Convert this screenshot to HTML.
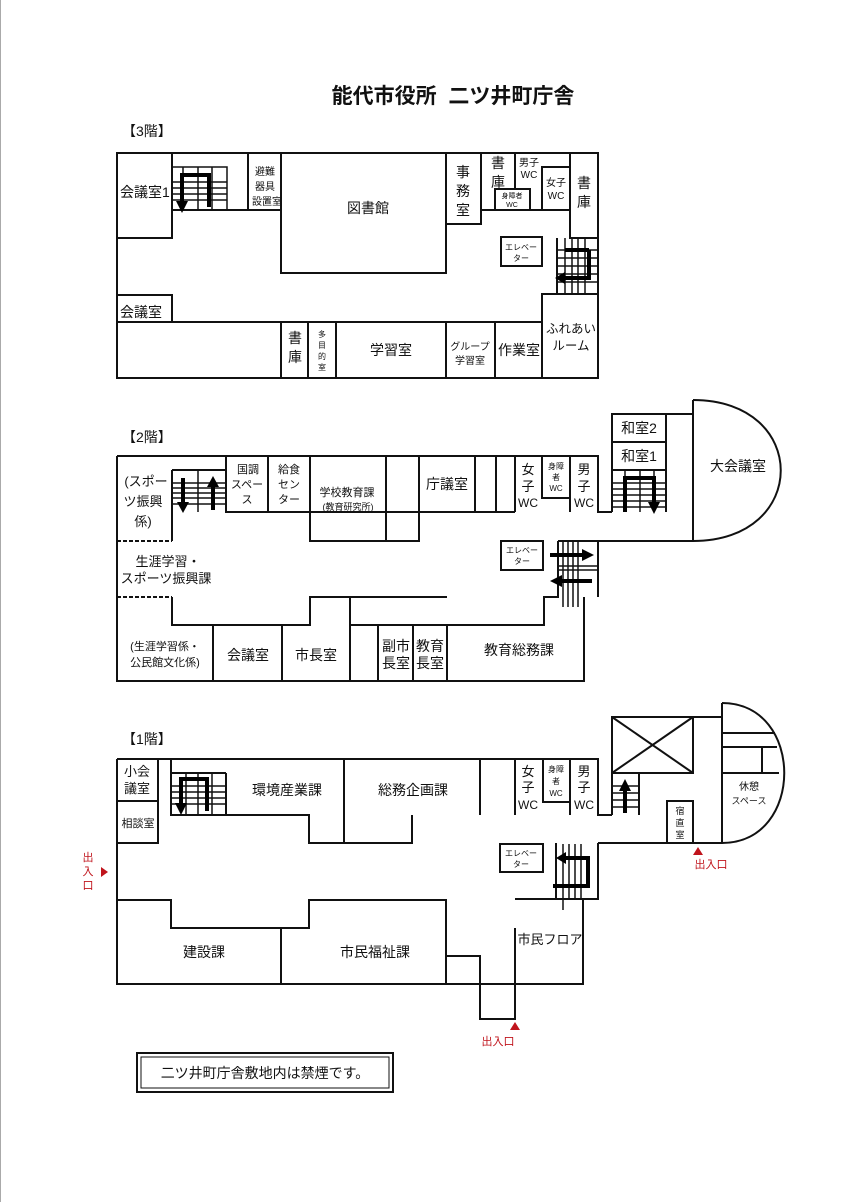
<!DOCTYPE html>
<html><head><meta charset="utf-8"><style>
html,body{margin:0;padding:0;background:#fff;}
svg{display:block;}
text{font-family:"Liberation Sans","Noto Sans CJK JP",sans-serif;fill:#111;}
</style></head><body>
<svg width="852" height="1202" viewBox="0 0 852 1202" xmlns="http://www.w3.org/2000/svg">
<rect width="852" height="1202" fill="#fff"/>
<line x1="0.5" y1="0" x2="0.5" y2="1202" stroke="#aaa" stroke-width="1"/>
<text x="453" y="103" font-size="21" font-weight="bold" text-anchor="middle">能代市役所&#160;&#160;二ツ井町庁舎</text>

<g stroke="#111" stroke-width="2" fill="none">
<!-- ===== 3F ===== -->
<rect x="117" y="153" width="481" height="225"/>
<path d="M172 153V238H117"/>
<path d="M172 210H282"/>
<path d="M248 153V210"/>
<rect x="281" y="153" width="165" height="120"/>
<path d="M446 224H481V153"/>
<path d="M481 210H570"/>
<path d="M515 153V189"/>
<rect x="495" y="189" width="35" height="21"/>
<path d="M542 210V167H570"/>
<path d="M570 153V238H598"/>
<rect x="501" y="237" width="41" height="29"/>
<path d="M557 238V294"/>
<path d="M542 378V294H598"/>
<path d="M117 295H172V322"/>
<path d="M117 322H542"/>
<path d="M281 322V378M308 322V378M336 322V378M446 322V378M495 322V378"/>
</g>
<g stroke="#111" stroke-width="1.5" fill="none">
<path d="M172 167H227V210M183 167V210M198 167V210M212 167V210M172 182H227M172 188H227M172 194H227M172 200H227"/>
<path d="M565 238V294M572 238V294M578 238V294M585 238V294M557 250H598M557 258H598M557 266H598M557 274H598M557 282H598"/>
</g>
<g stroke="#000" stroke-width="4" fill="none">
<path d="M209 207V175H182V203"/>
<path d="M589 250H565M589 250V278H562"/>
</g>
<path d="M176 201L182 213L188 201Z" fill="#000"/>
<path d="M565 272L555 278L565 284Z" fill="#000"/>

<g font-size="14">
<text x="120" y="197">会議室1</text>
<text x="120" y="317">会議室</text>
<text x="368" y="213" text-anchor="middle">図書館</text>
<text x="391" y="355" text-anchor="middle">学習室</text>
<text x="519" y="355" text-anchor="middle">作業室</text>
<text x="571" y="333" text-anchor="middle" font-size="12.5">ふれあい</text>
<text x="571" y="350" text-anchor="middle" font-size="12.5">ルーム</text>
<text x="463" y="177" text-anchor="middle">事</text>
<text x="463" y="196" text-anchor="middle">務</text>
<text x="463" y="215" text-anchor="middle">室</text>
<text x="498" y="168" text-anchor="middle">書</text>
<text x="498" y="187" text-anchor="middle">庫</text>
<text x="584" y="188" text-anchor="middle">書</text>
<text x="584" y="207" text-anchor="middle">庫</text>
<text x="295" y="343" text-anchor="middle">書</text>
<text x="295" y="362" text-anchor="middle">庫</text>
</g>
<g font-size="10" text-anchor="middle">
<text x="265" y="175">避難</text>
<text x="265" y="190">器具</text>
<text x="267" y="205">設置室</text>
<text x="529" y="166">男子</text>
<text x="529" y="178">WC</text>
<text x="556" y="186">女子</text>
<text x="556" y="199">WC</text>
<text x="512" y="198" font-size="7">身障者</text>
<text x="512" y="207" font-size="7">WC</text>
<text x="521" y="250" font-size="8">エレベー</text>
<text x="521" y="261" font-size="8">ター</text>
<text x="322" y="337" font-size="8">多</text>
<text x="322" y="348" font-size="8">目</text>
<text x="322" y="359" font-size="8">的</text>
<text x="322" y="370" font-size="8">室</text>
<text x="470" y="350">グループ</text>
<text x="470" y="364">学習室</text>
</g>
<text x="122" y="136" font-size="14">【3階】</text>

<!-- ===== 2F ===== -->
<text x="122" y="442" font-size="14">【2階】</text>
<g stroke="#111" stroke-width="2" fill="none">
<path d="M117 456H598V512H612"/>
<path d="M117 456V681H584V597"/>
<path d="M612 512V414H693"/>
<path d="M612 442H666M612 470H666M666 414V512"/>
<path d="M693 400V541"/>
<path d="M693 400C810 400 810 541 693 541"/>
<path d="M558 541H693"/>
<path d="M598 541V597"/>
<path d="M558 541V597H544V625H350"/>
<path d="M172 470V541M172 470H226V512"/>
<path d="M226 456V512H386M268 456V512M310 456V541H419V456M386 456V541M386 512H419M419 512H515"/>
<path d="M475 456V512M496 456V512M515 456V512M542 456V498H570V456M570 456V512"/>
<path d="M172 597V625H310V597H447"/>
<path d="M350 597V681M213 625V681M282 625V681M378 625V681M413 625V681M447 625V681"/>
<rect x="501" y="541" width="42" height="29"/>
</g>
<path d="M117 541H172M117 597H172" stroke="#111" stroke-width="2" stroke-dasharray="4,2"/>
<g stroke="#111" stroke-width="1.5" fill="none">
<path d="M198 470V512M172 483H226M172 488H226M172 493H226M172 498H226M172 504H226"/>
<path d="M612 483H666M612 489H666M612 495H666M612 501H666M612 507H666M625 470V512M640 470V512M654 470V512"/>
<path d="M563 541V607M568 541V607M573 541V607M578 541V607M558 566H598M558 570H598"/>
</g>
<g stroke="#000" stroke-width="4" fill="none">
<path d="M183 478V505M213 510V484"/>
<path d="M625 512V478H654V505"/>
<path d="M550 555H584M592 581H560"/>
</g>
<g fill="#000">
<path d="M177 502L183 513L189 502Z"/>
<path d="M207 487L213 476L219 487Z"/>
<path d="M648 502L654 514L660 502Z"/>
<path d="M582 549L594 555L582 561Z"/>
<path d="M562 575L550 581L562 587Z"/>
</g>
<g font-size="13" text-anchor="middle">
<text x="146" y="486">(スポー</text>
<text x="143" y="506">ツ振興</text>
<text x="143" y="526">係)</text>
<text x="168" y="566">生涯学習・</text>
<text x="166" y="583">スポーツ振興課</text>
<text x="165" y="650" font-size="11">(生涯学習係・</text>
<text x="165" y="666" font-size="11">公民館文化係)</text>
<text x="248" y="660" font-size="14">会議室</text>
<text x="316" y="660" font-size="14">市長室</text>
<text x="396" y="651" font-size="14">副市</text>
<text x="396" y="668" font-size="14">長室</text>
<text x="430" y="651" font-size="14">教育</text>
<text x="430" y="668" font-size="14">長室</text>
<text x="519" y="655" font-size="14">教育総務課</text>
<text x="447" y="489" font-size="14">庁議室</text>
<text x="639" y="433" font-size="14">和室2</text>
<text x="639" y="461" font-size="14">和室1</text>
<text x="738" y="471" font-size="14">大会議室</text>
<text x="248" y="473" font-size="11">国調</text>
<text x="247" y="488" font-size="11">スペー</text>
<text x="247" y="503" font-size="11">ス</text>
<text x="289" y="473" font-size="11">給食</text>
<text x="289" y="488" font-size="11">セン</text>
<text x="289" y="503" font-size="11">ター</text>
<text x="347" y="496" font-size="11">学校教育課</text>
<text x="348" y="510" font-size="9">(教育研究所)</text>
<text x="528" y="474" font-size="13">女</text>
<text x="528" y="491" font-size="13">子</text>
<text x="528" y="507" font-size="12">WC</text>
<text x="584" y="474" font-size="13">男</text>
<text x="584" y="491" font-size="13">子</text>
<text x="584" y="507" font-size="12">WC</text>
<text x="556" y="469" font-size="8">身障</text>
<text x="556" y="480" font-size="8">者</text>
<text x="556" y="491" font-size="8">WC</text>
<text x="522" y="553" font-size="8">エレベー</text>
<text x="522" y="564" font-size="8">ター</text>
</g>

<!-- ===== 1F ===== -->
<text x="122" y="744" font-size="14">【1階】</text>
<g stroke="#111" stroke-width="2" fill="none">
<path d="M117 759H598V815H612"/>
<path d="M117 759V984H583V899"/>
<path d="M117 801H158M117 843H158V759"/>
<path d="M171 759V815H226M226 773V815H309V843H412V815"/>
<path d="M171 773H226"/>
<path d="M344 759V843M480 759V815M515 759V815M543 759V802H570V759M570 759V815"/>
<rect x="612" y="717" width="81" height="56"/>
<path d="M612 717L693 773M693 717L612 773"/>
<path d="M693 717H722M612 773V815M639 773V815"/>
<path d="M722 703V843"/>
<path d="M722 703C805 703 805 843 722 843"/>
<path d="M722 733H775M722 747H777M762 747V773M722 773H779"/>
<path d="M598 843H722"/>
<path d="M667 843V801H693V843"/>
<path d="M556 843V899H598V843M515 899H598"/>
<rect x="500" y="844" width="43" height="28"/>
<path d="M117 900H171V928H309V900H446V984M281 928V984"/>
<path d="M446 956H480V1019H515V928"/>
</g>
<g stroke="#111" stroke-width="1.5" fill="none">
<path d="M186 773V815M198 773V815M212 773V815M171 786H226M171 792H226M171 798H226M171 804H226"/>
<path d="M612 786H639M612 793H639M612 800H639M612 807H639"/>
<path d="M563 844V910M569 844V899M575 844V899M581 844V899"/>
</g>
<g stroke="#000" stroke-width="4" fill="none">
<path d="M207 811V779H181V805"/>
<path d="M625 813V788"/>
<path d="M566 858H588V886H553"/>
</g>
<g fill="#000">
<path d="M175 803L181 815L187 803Z"/>
<path d="M619 791L625 779L631 791Z"/>
<path d="M566 852L556 858L566 864Z"/>
</g>
<g font-size="13" text-anchor="middle">
<text x="137" y="776">小会</text>
<text x="137" y="793">議室</text>
<text x="138" y="827" font-size="11">相談室</text>
<text x="287" y="795" font-size="14">環境産業課</text>
<text x="413" y="795" font-size="14">総務企画課</text>
<text x="528" y="776">女</text>
<text x="528" y="792">子</text>
<text x="528" y="809" font-size="12">WC</text>
<text x="584" y="776">男</text>
<text x="584" y="792">子</text>
<text x="584" y="809" font-size="12">WC</text>
<text x="556" y="772" font-size="8">身障</text>
<text x="556" y="784" font-size="8">者</text>
<text x="556" y="796" font-size="8">WC</text>
<text x="680" y="814" font-size="9">宿</text>
<text x="680" y="826" font-size="9">直</text>
<text x="680" y="838" font-size="9">室</text>
<text x="749" y="790" font-size="10">休憩</text>
<text x="749" y="804" font-size="9">スペース</text>
<text x="521" y="856" font-size="8">エレベー</text>
<text x="521" y="867" font-size="8">ター</text>
<text x="204" y="957" font-size="14">建設課</text>
<text x="375" y="957" font-size="14">市民福祉課</text>
<text x="550" y="944" font-size="13">市民フロア</text>
</g>
<!-- entrances -->
<g fill="#c0141c">
<path d="M101 867L108 872L101 877Z"/>
<path d="M693 855L698 847L703 855Z"/>
<path d="M510 1030L515 1022L520 1030Z"/>
</g>
<g font-size="11" text-anchor="middle">
<text x="88" y="861" style="fill:#c0141c">出</text>
<text x="88" y="875" style="fill:#c0141c">入</text>
<text x="88" y="889" style="fill:#c0141c">口</text>
<text x="711" y="868" style="fill:#c0141c">出入口</text>
<text x="498" y="1045" style="fill:#c0141c">出入口</text>
</g>

<!-- footer -->
<rect x="137" y="1053" width="256" height="39" fill="none" stroke="#111" stroke-width="2"/>
<rect x="141" y="1057" width="248" height="31" fill="none" stroke="#111" stroke-width="1"/>
<text x="265" y="1078" font-size="14" text-anchor="middle">二ツ井町庁舎敷地内は禁煙です。</text>
</svg>
</body></html>
